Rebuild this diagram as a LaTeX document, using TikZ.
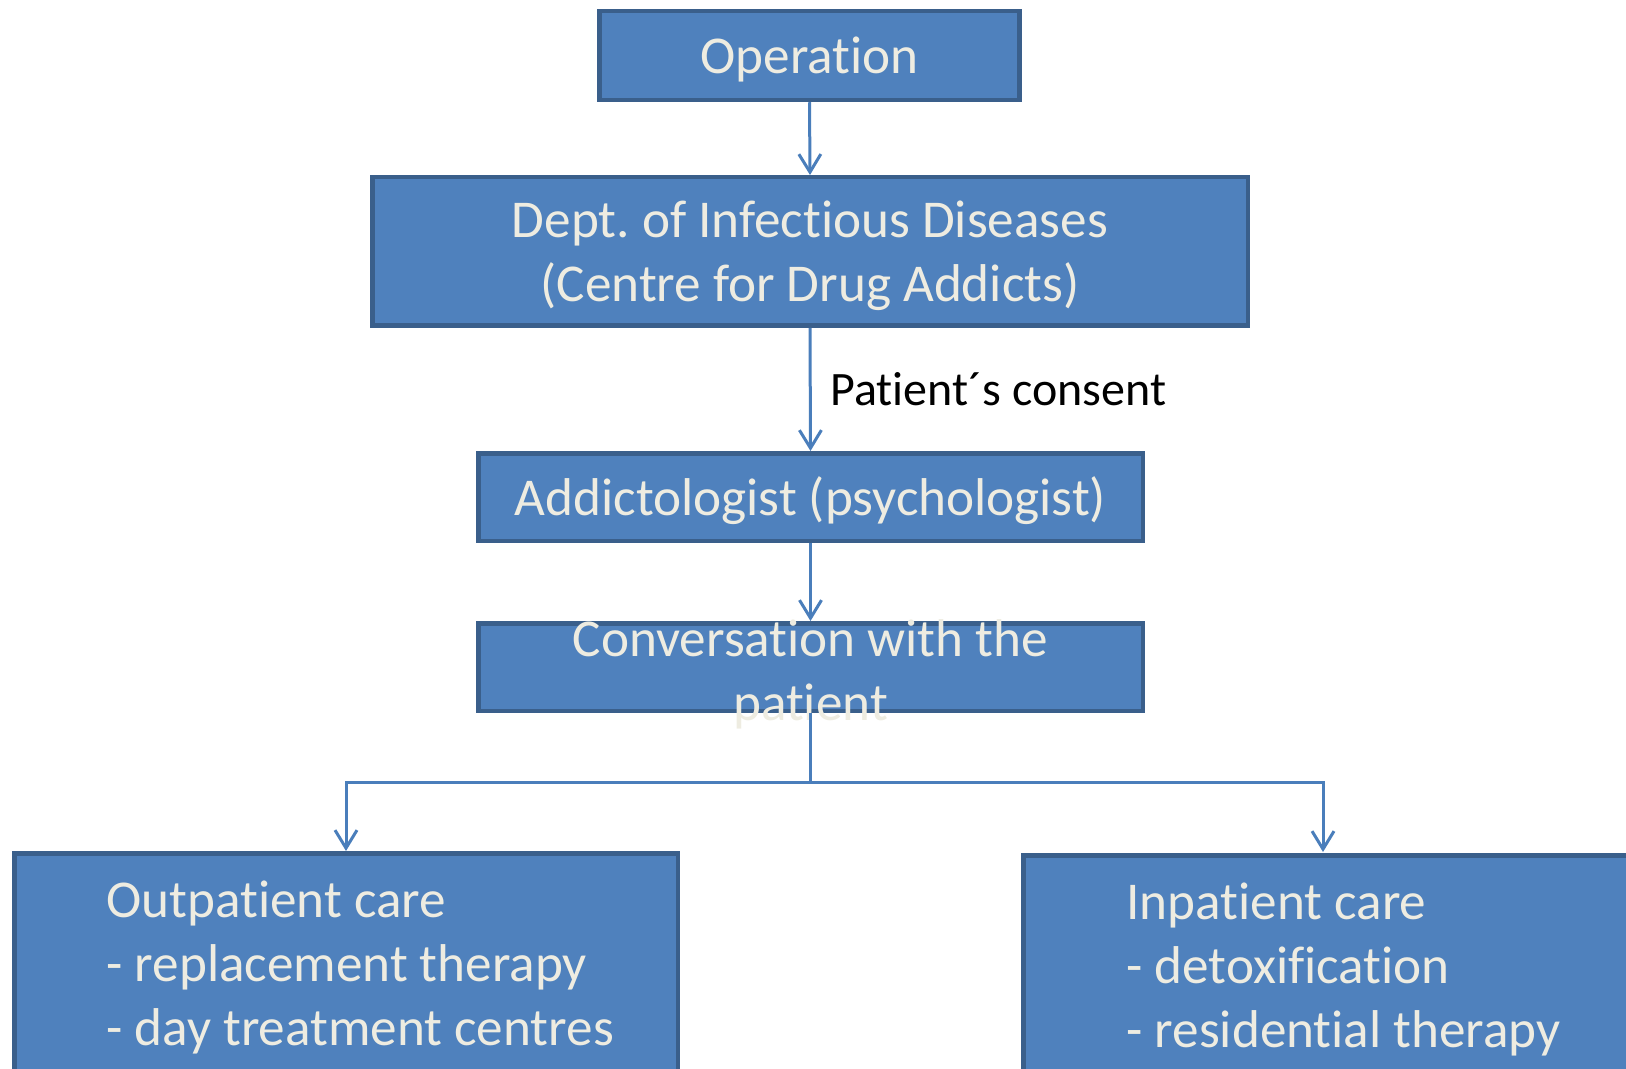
\documentclass[tikz,border=0pt]{standalone}
\usepackage{fontspec}
\setmainfont[Ligatures=NoCommon]{Carlito}
\usetikzlibrary{arrows.meta}
\definecolor{boxfill}{HTML}{4F81BD}
\definecolor{boxdraw}{HTML}{3A5F8B}
\definecolor{boxtext}{HTML}{EEECE1}
\definecolor{conn}{HTML}{4A7EBB}
\frenchspacing
\begin{document}
\begin{tikzpicture}[x=0.5pt,y=-0.5pt,
  box/.style={draw=boxdraw, fill=boxfill, line width=2.25pt, inner sep=0pt},
  boxlabel/.style={text=boxtext, font=\fontsize{26.6}{32}\selectfont, inner sep=0pt},
  arr/.style={draw=conn, line width=1.5pt,
    -{Straight Barb[length=9pt,width=11pt,line width=1.5pt]}}]
\useasboundingbox (0,0) rectangle (1626,1069);
\clip (0,0) rectangle (1626,1069);

\node[box, minimum width=210pt, minimum height=44.5pt] (op) at (809.5,55.5) {};
\node[boxlabel] (optext) at (809.5,59.5) {Operation};
\node[box, minimum width=437.75pt, minimum height=74.25pt] (dept) at (810,251.5) {};
\node[boxlabel, align=center] (depttext) at (810,255.5)
  {Dept. of Infectious Diseases\\(Centre for Drug Addicts)};
\node[box, minimum width=332.25pt, minimum height=43.75pt] (add) at (810.5,497) {};
\node[boxlabel] (addtext) at (810.5,501) {Addictologist (psychologist)};
\node[box, minimum width=332.25pt, minimum height=43.75pt] (conv) at (810.5,667) {};
\node[boxlabel, align=center] (convtext) at (810.5,674) {Conversation with the\\patient};

\node[box, minimum width=331.75pt, minimum height=122.25pt] (outp) at (346,975.5) {};
\node[boxlabel, align=left, anchor=west] (outptext) at (106,967)
  {Outpatient care\\- replacement therapy\\- day treatment centres};
\node[box, minimum width=312.25pt, minimum height=121.25pt] (inp) at (1335.5,976.5) {};
\node[boxlabel, align=left, anchor=west] (inptext) at (1126,969)
  {Inpatient care\\- detoxification\\- residential therapy};

\draw[arr] (op.south) -- (dept.north);
\draw[arr] (dept.south) -- (add.north);
\node[anchor=west, inner sep=0pt, font=\fontsize{24}{28}\selectfont] (consent) at (830,389)
  {Patient´s consent};
\draw[arr] (add.south) -- (conv.north);

\coordinate (split) at (810.5,782);
\coordinate (inTop) at (1323,852);
\draw[arr] (conv.south) -- (split) -| (outp.north);
\draw[arr] (split) -| (inTop);
\end{tikzpicture}
\end{document}
